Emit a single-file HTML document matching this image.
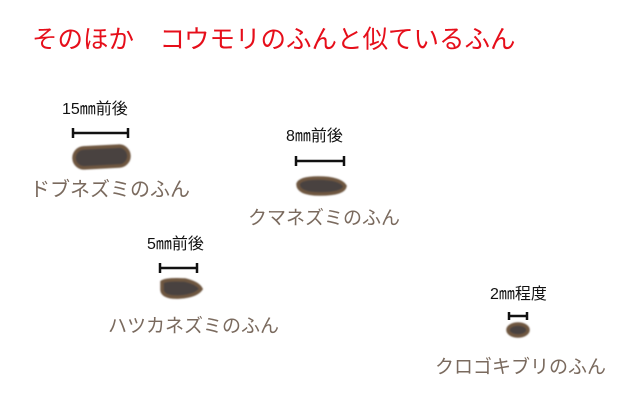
<!DOCTYPE html>
<html><head><meta charset="utf-8"><style>
body{margin:0;width:640px;height:400px;background:#fff;position:relative;overflow:hidden;font-family:"Liberation Sans","Noto Sans CJK JP",sans-serif}
.t{position:absolute;white-space:nowrap;line-height:1}
.title{left:32px;top:28px;font-size:25.5px;color:#e60e1a}
.s{font-size:16px;color:#111}
.l{font-size:19px;color:#7a6a5e}
svg{position:absolute;left:0;top:0}
</style></head><body>
<div class="t title">そのほか　コウモリのふんと似ているふん</div>
<div class="t s" style="left:62px;top:102px">15㎜前後</div>
<div class="t s" style="left:286px;top:129px">8㎜前後</div>
<div class="t s" style="left:147px;top:237px">5㎜前後</div>
<div class="t s" style="left:490px;top:287px">2㎜程度</div>
<div class="t l" style="left:30px;top:180px;font-size:20px">ドブネズミのふん</div>
<div class="t l" style="left:248px;top:209px">クマネズミのふん</div>
<div class="t l" style="left:108px;top:317px">ハツカネズミのふん</div>
<div class="t l" style="left:435px;top:358px">クロゴキブリのふん</div>
<svg width="640" height="400">
<defs><filter id="f"><feGaussianBlur stdDeviation="0.7"/></filter></defs>
<g stroke="#111" stroke-width="2.5">
<line x1="73" y1="133" x2="128" y2="133"/><line x1="73" y1="128" x2="73" y2="138"/><line x1="128" y1="128" x2="128" y2="138"/>
<line x1="296" y1="161" x2="344" y2="161"/><line x1="296" y1="156" x2="296" y2="166"/><line x1="344" y1="156" x2="344" y2="166"/>
<line x1="160" y1="268" x2="197" y2="268"/><line x1="160" y1="263" x2="160" y2="273"/><line x1="197" y1="263" x2="197" y2="273"/>
<line x1="509" y1="316" x2="527" y2="316"/><line x1="509" y1="312" x2="509" y2="320"/><line x1="527" y1="312" x2="527" y2="320"/>
</g>
<g fill="#4a4240" stroke="#6e5640" stroke-width="3.5" filter="url(#f)">
<rect x="74" y="147" width="55" height="20" rx="10" transform="rotate(-3 101 157)"/>
<path d="M298 184 Q300 178 318 178 Q340 178 345 186 Q344 194 320 194 Q298 194 298 184Z"/>
<path d="M162 282 Q166 279 185 280 Q198 283 201 289 Q196 296 180 297 Q163 298 162 290Z"/>
<ellipse cx="518" cy="330" rx="10" ry="6"/>
</g>
</svg>
</body></html>
